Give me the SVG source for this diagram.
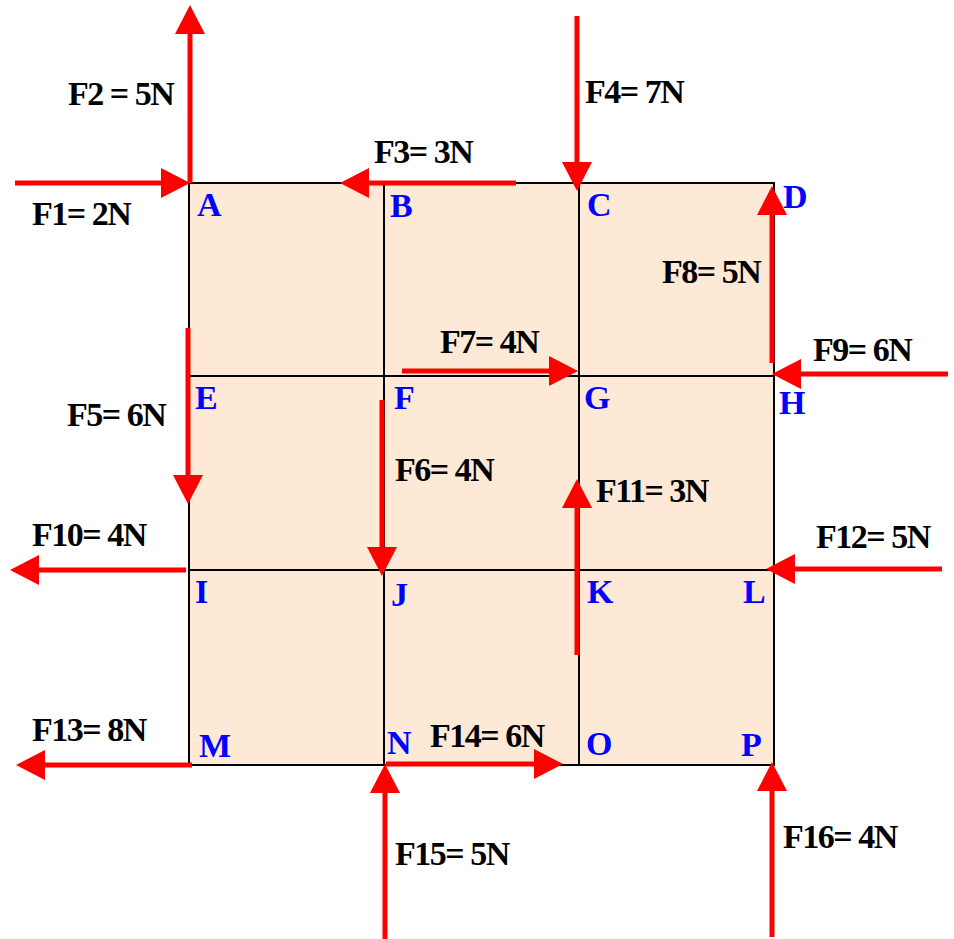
<svg xmlns="http://www.w3.org/2000/svg" width="954" height="939" viewBox="0 0 954 939">
<style>
.cell{fill:#FDE9D6;stroke:none}
.grid{stroke:#000;stroke-width:2;fill:none}
.force{stroke:#FF0000;stroke-width:5;fill:none;marker-end:url(#head)}
.lbl{font-family:"Liberation Serif","Times New Roman",serif;font-weight:bold;font-size:34px;fill:#000;letter-spacing:-1.5px}
.pt{font-family:"Liberation Serif","Times New Roman",serif;font-weight:bold;font-size:34px;fill:#0000FF}
</style>
<defs>
<marker id="head" markerUnits="userSpaceOnUse" markerWidth="30" markerHeight="32" viewBox="0 -16 30 32" refX="0" refY="0" orient="auto">
<path d="M0,-15 L29,0 L0,15 z" fill="#FF0000"/>
</marker>
</defs>
<rect width="954" height="939" fill="#fff"/>
<g id="grid">
<rect class="cell" x="189" y="183" width="585" height="582"/>
<rect class="grid" x="189" y="183" width="585" height="582"/>
<line class="grid" x1="384" y1="183" x2="384" y2="765"/>
<line class="grid" x1="579" y1="183" x2="579" y2="765"/>
<line class="grid" x1="189" y1="376" x2="774" y2="376"/>
<line class="grid" x1="189" y1="570" x2="774" y2="570"/>
</g>
<g id="points">
<g id="A"><text class="pt" x="197" y="216">A</text></g>
<g id="B"><text class="pt" x="390" y="217">B</text></g>
<g id="C"><text class="pt" x="587" y="216">C</text></g>
<g id="D"><text class="pt" x="783" y="208">D</text></g>
<g id="E"><text class="pt" x="195" y="409">E</text></g>
<g id="F"><text class="pt" x="394" y="409">F</text></g>
<g id="G"><text class="pt" x="584" y="409">G</text></g>
<g id="H"><text class="pt" x="779" y="414">H</text></g>
<g id="I"><text class="pt" x="195" y="603">I</text></g>
<g id="J"><text class="pt" x="391" y="606">J</text></g>
<g id="K"><text class="pt" x="587" y="603">K</text></g>
<g id="L"><text class="pt" x="743" y="603">L</text></g>
<g id="M"><text class="pt" x="199" y="757">M</text></g>
<g id="N"><text class="pt" x="387" y="754">N</text></g>
<g id="O"><text class="pt" x="586" y="755">O</text></g>
<g id="P"><text class="pt" x="741" y="756">P</text></g>
</g>
<g id="connectors">
<line class="force" x1="15" y1="183" x2="161" y2="183"/>
<line class="force" x1="190" y1="183" x2="190" y2="34"/>
<line class="force" x1="516" y1="183" x2="369" y2="183"/>
<line class="force" x1="577" y1="16" x2="577" y2="162"/>
<line class="force" x1="188" y1="328" x2="188" y2="475"/>
<line class="force" x1="382" y1="400" x2="382" y2="547"/>
<line class="force" x1="402" y1="371" x2="549" y2="371"/>
<line class="force" x1="772" y1="363" x2="772" y2="215"/>
<line class="force" x1="948" y1="374" x2="801" y2="374"/>
<line class="force" x1="186" y1="570" x2="39" y2="570"/>
<line class="force" x1="577" y1="655" x2="577" y2="508"/>
<line class="force" x1="942" y1="569" x2="795" y2="569"/>
<line class="force" x1="192" y1="765" x2="45" y2="765"/>
<line class="force" x1="386" y1="764" x2="534" y2="764"/>
<line class="force" x1="385" y1="939" x2="385" y2="793"/>
<line class="force" x1="772" y1="937" x2="772" y2="791"/>
</g>
<g id="labels">
<text class="lbl" x="68" y="105">F2 = 5N</text>
<text class="lbl" x="32" y="225">F1= 2N</text>
<text class="lbl" x="374" y="163">F3= 3N</text>
<text class="lbl" x="585" y="103">F4= 7N</text>
<text class="lbl" x="662" y="283">F8= 5N</text>
<text class="lbl" x="440" y="353">F7= 4N</text>
<text class="lbl" x="813" y="361">F9= 6N</text>
<text class="lbl" x="67" y="426">F5= 6N</text>
<text class="lbl" x="395" y="481">F6= 4N</text>
<text class="lbl" x="596" y="502">F11= 3N</text>
<text class="lbl" x="32" y="546">F10= 4N</text>
<text class="lbl" x="816" y="548">F12= 5N</text>
<text class="lbl" x="32" y="741">F13= 8N</text>
<text class="lbl" x="430" y="747">F14= 6N</text>
<text class="lbl" x="395" y="865">F15= 5N</text>
<text class="lbl" x="783" y="848">F16= 4N</text>
</g>
</svg>
